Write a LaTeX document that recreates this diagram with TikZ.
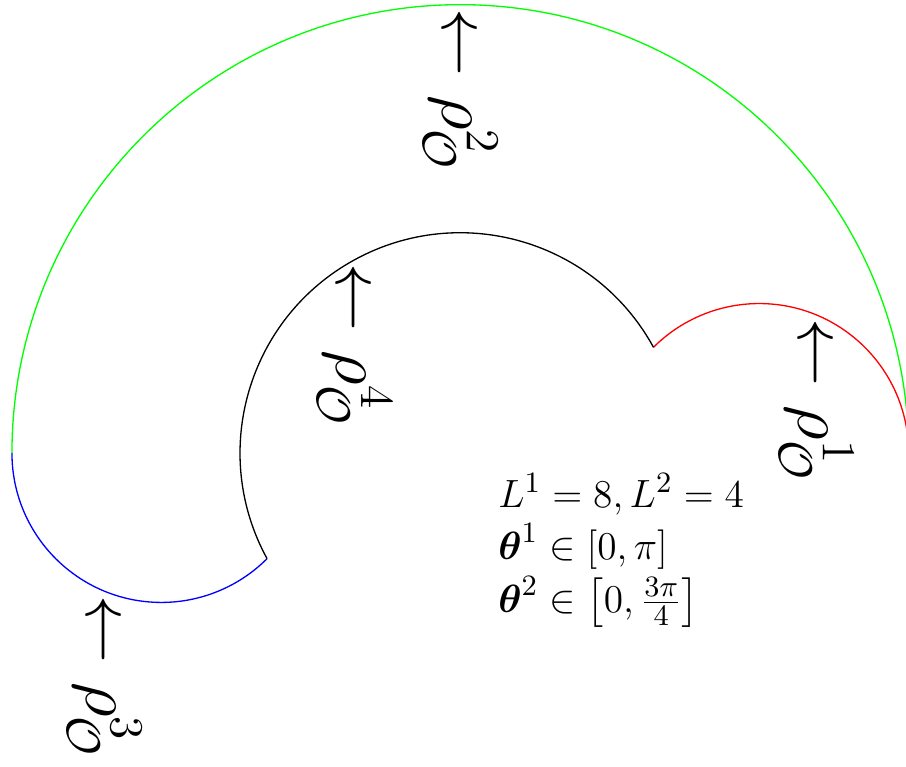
\documentclass[tikz,border=0pt]{standalone}
\usepackage{amsmath, amssymb}
\usepackage{tikz}
\usetikzlibrary{positioning}

\tikzset{
  rholabel/.style={rotate=-90, anchor=west, inner sep=1pt, font=\fontsize{21.5pt}{26pt}\selectfont},
}

\begin{document}
\begin{tikzpicture}[scale=0.4]
    \useasboundingbox (-12.32,-8.40) rectangle (11.93,12.125);

    % Outer boundary (theta^2 = 0)
    \draw[green] (12,0) arc[start angle=0, end angle=180, radius=12];

    % theta^1 = 0 and theta^1 = pi
    \draw[red] (12,0) arc[start angle=0, end angle=135, radius=4];
    \draw[blue] (-12,0) arc[start angle=180, end angle=315, radius=4];

    % Inner boundary (theta^2 = 3pi/4)
    \draw (5.172,2.828) arc[start angle=28.67, end angle=208.67, radius=5.895];

    % Labels
    \node[rholabel] (rho1) at (9.531,3.696) {$\leftarrow \rho^1_{\mathcal{O}}$};
    \node[rholabel] (rho2) at (0,12) {$\leftarrow \rho^2_{\mathcal{O}}$};
    \node[rholabel] (rho3) at (-9.531,-3.696) {$\leftarrow \rho^3_{\mathcal{O}}$};
    \node[rholabel] (rho4) at (-2.828,5.172) {$\leftarrow \rho^4_{\mathcal{O}}$};

    % Parameters
    \node[anchor=north west, align=left, inner sep=0pt,
          font=\fontsize{12.6pt}{15pt}\selectfont] (params) at (1.0,-0.54)
      {$L^1 = 8, L^2 = 4$\\[1pt]
       $\boldsymbol{\theta}^1 \in [0,\pi]$\\[1pt]
       $\boldsymbol{\theta}^2 \in \left[0,\frac{3\pi}{4}\right]$};
\end{tikzpicture}
\end{document}
